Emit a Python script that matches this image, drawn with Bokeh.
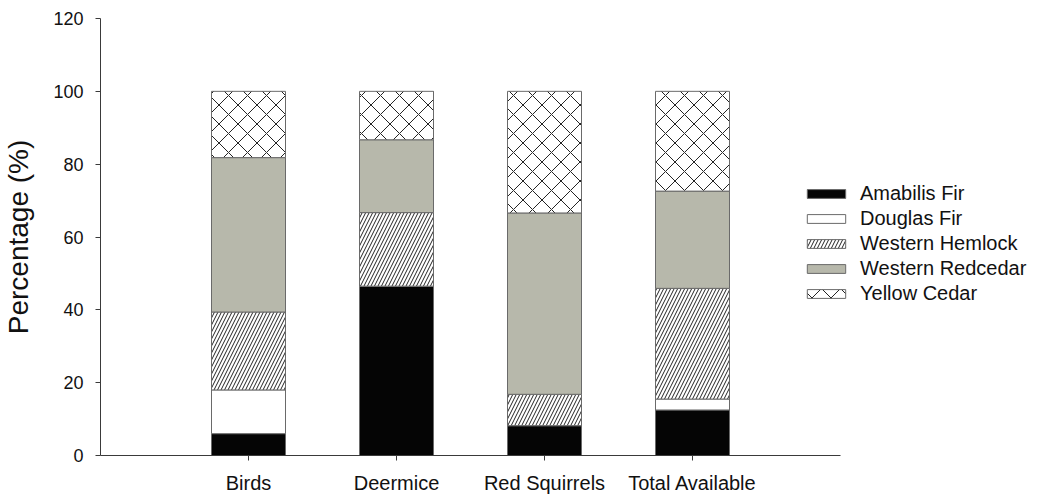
from bokeh.plotting import figure
from bokeh.models import ColumnDataSource, FixedTicker, Range1d, Legend, LegendItem
from bokeh.embed import file_html
from bokeh.resources import INLINE

groups = ["Birds", "Deermice", "Red Squirrels", "Total Available"]
positions = [1, 2, 3, 4]
species = ["Amabilis Fir", "Douglas Fir", "Western Hemlock", "Western Redcedar", "Yellow Cedar"]
amabilis = [6.0, 46.5, 8.2, 12.5]
douglas = [12.0, 0.0, 0.0, 3.0]
hemlock = [21.4, 20.2, 8.6, 30.4]
redcedar = [42.4, 20.0, 49.8, 26.7]
yellow = [18.2, 13.3, 33.4, 27.4]
y_ticks = [0, 20, 40, 60, 80, 100, 120]

fills = ["#050505", "white", "white", "#b7b8ab", "white"]
hatches = [" ", " ", "/", " ", "x"]
hatch_scales = [12, 12, 7, 12, 19]

source = ColumnDataSource(dict(x=positions, **{
    species[0]: amabilis, species[1]: douglas, species[2]: hemlock,
    species[3]: redcedar, species[4]: yellow}))

FONT = "Liberation Sans"
W, H = 1035, 496
LEFT, TOP, BOTTOM = 100, 18, 41
PX_PER_UNIT = 148.0
x_end = (W - LEFT) / PX_PER_UNIT

p = figure(width=W, height=H, x_range=Range1d(0, x_end), y_range=Range1d(0, 120),
           output_backend="svg", toolbar_location=None,
           min_border_left=LEFT, min_border_top=TOP, min_border_bottom=BOTTOM, min_border_right=0)
p.outline_line_color = None
p.xgrid.grid_line_color = None
p.ygrid.grid_line_color = None

rs = p.vbar_stack(species, x="x", width=0.5, source=source,
                  fill_color=fills, line_color="#6a6a6a", line_width=1,
                  hatch_pattern=hatches, hatch_scale=hatch_scales,
                  hatch_color="#222222", hatch_weight=1)

legend = Legend(items=[LegendItem(label=s, renderers=[r]) for s, r in zip(species, rs)],
                location=(702, 150), padding=0, margin=0, spacing=2,
                glyph_width=48, glyph_height=11, label_height=20, label_standoff=10,
                border_line_color=None, background_fill_alpha=0,
                label_text_font=FONT, label_text_font_size="20px", label_text_color="#111111")
p.add_layout(legend)

for ax in (p.xaxis[0], p.yaxis[0]):
    ax.axis_line_color = "#3a3a3a"
    ax.major_tick_line_color = "#3a3a3a"
    ax.major_tick_in = 0
    ax.major_tick_out = 5
    ax.minor_tick_line_color = None
    ax.major_label_text_font = FONT
    ax.major_label_text_color = "#111111"

p.xaxis.bounds = (0, 5)
p.xaxis.ticker = FixedTicker(ticks=positions)
p.xaxis.major_label_overrides = {k: g for k, g in zip(positions, groups)}
p.xaxis.major_label_text_font_size = "20px"
p.xaxis.major_label_standoff = 11

p.yaxis.ticker = FixedTicker(ticks=y_ticks)
p.yaxis.major_label_text_font_size = "18px"
p.yaxis.major_label_standoff = 12
p.yaxis.axis_label = "Percentage (%)"
p.yaxis.axis_label_text_font = FONT
p.yaxis.axis_label_text_font_size = "28px"
p.yaxis.axis_label_text_font_style = "normal"
p.yaxis.axis_label_text_color = "#111111"
p.yaxis.axis_label_standoff = 16

open("out.html", "w").write(file_html(p, INLINE))
